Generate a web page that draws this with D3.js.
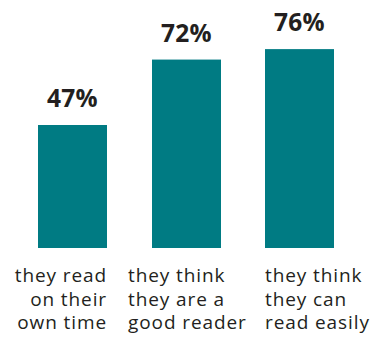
<!DOCTYPE html>
<html>
<head>
<meta charset="utf-8">
<script src="https://cdn.jsdelivr.net/npm/d3@7"></script>
<style>
  html, body { margin: 0; padding: 0; background: #fff; }
  svg { display: block; }
</style>
</head>
<body>
<svg id="chart" width="383" height="339"></svg>
<script>
const categories = ["read_own_time", "good_reader", "read_easily"];
const values = [47, 72, 76];
const labelLines = [
  ["they read", "on their", "own time"],
  ["they think", "they are a", "good reader"],
  ["they think", "they can", "read easily"]
];
const labelAlign = ["end", "start", "start"];

const svg = d3.select("#chart");
const baseline = 248;
const barWidth = 69;
const barLefts = [38, 152, 265];
const font = "'Open Sans', sans-serif";

const x = d3.scaleOrdinal().domain(categories).range(barLefts);
const y = d3.scaleLinear().domain([0, 100]).range([baseline, baseline - 261.7]);

svg.selectAll("rect.bar")
  .data(values)
  .join("rect")
  .attr("class", "bar")
  .attr("x", (d, i) => x(categories[i]))
  .attr("width", barWidth)
  .attr("y", d => y(d))
  .attr("height", d => baseline - y(d))
  .attr("fill", "#007B83");

svg.selectAll("text.value")
  .data(values)
  .join("text")
  .attr("class", "value")
  .attr("x", (d, i) => x(categories[i]) + barWidth / 2)
  .attr("y", d => y(d) - 18)
  .attr("text-anchor", "middle")
  .attr("font-family", font)
  .attr("font-weight", "bold")
  .attr("font-size", 24.5)
  .attr("letter-spacing", 0.3)
  .attr("fill", "#231f20")
  .text(d => d + "%");

const labels = svg.selectAll("text.cat")
  .data(labelLines)
  .join("text")
  .attr("class", "cat")
  .attr("text-anchor", (d, i) => labelAlign[i])
  .attr("font-family", font)
  .attr("font-size", 19)
  .attr("letter-spacing", 0.9)
  .attr("fill", "#231f20");

labels.each(function (lines, i) {
  const ax = labelAlign[i] === "end" ? x(categories[i]) + barWidth : x(categories[i]) - (i === 1 ? 24 : 0);
  d3.select(this).selectAll("tspan")
    .data(lines)
    .join("tspan")
    .attr("x", ax)
    .attr("y", (d, j) => 282 + j * 23.5)
    .text(d => d);
});
</script>
</body>
</html>
